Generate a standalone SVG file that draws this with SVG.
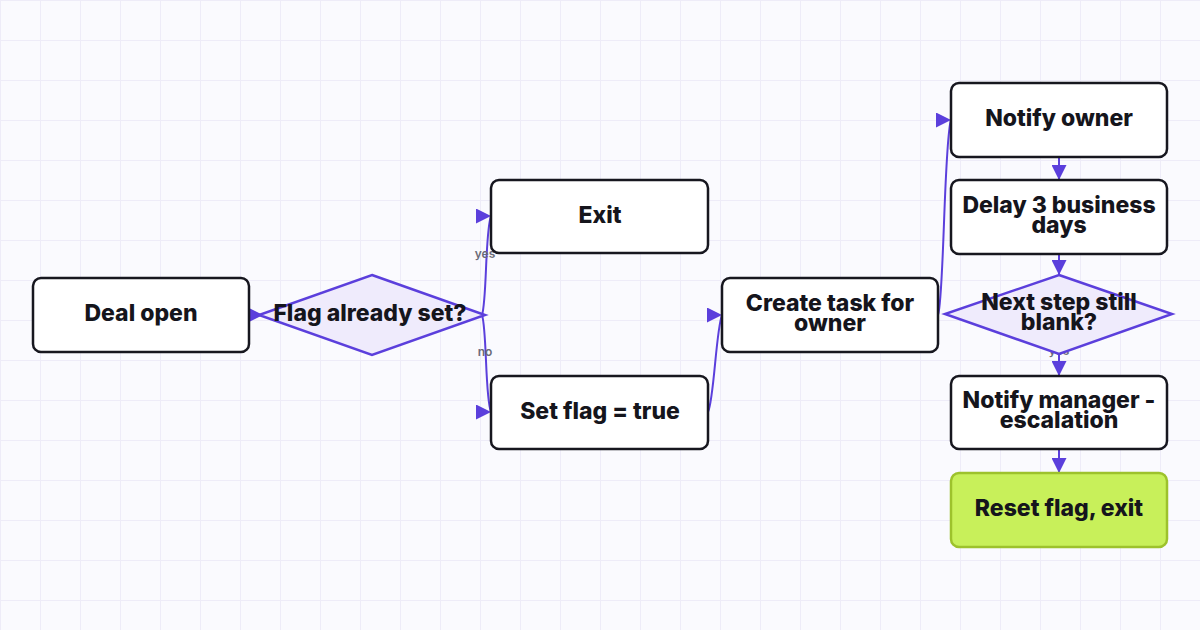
<svg xmlns="http://www.w3.org/2000/svg" width="1200" height="630" viewBox="0 0 1200 630">
<defs>
<pattern id="grid" width="40" height="40" patternUnits="userSpaceOnUse">
<path d="M40,0 L0,0 L0,40" fill="none" stroke="#eeecf8" stroke-width="2"/>
</pattern>
<marker id="arR" viewBox="0 0 15 15" refX="15" refY="7.5" markerWidth="15" markerHeight="15" markerUnits="userSpaceOnUse" orient="0">
<path d="M0,0 L15,7.5 L0,15 z" fill="#5b3fdc"/>
</marker>
<marker id="arD" viewBox="0 0 15 15" refX="15" refY="7.5" markerWidth="15" markerHeight="15" markerUnits="userSpaceOnUse" orient="90">
<path d="M0,0 L15,7.5 L0,15 z" fill="#5b3fdc"/>
</marker>
</defs>
<style>
.box{fill:#ffffff;stroke:#17171f;stroke-width:2.5}
.dia{fill:#efebfc;stroke:#5b3fdc;stroke-width:2.5}
.done{fill:#c8f05a;stroke:#9dc22c;stroke-width:2.5}
.t{font-family:Inter,"Liberation Sans",sans-serif;font-weight:800;font-size:23px;fill:#15151c;text-anchor:middle}
.e{fill:none;stroke:#5b3fdc;stroke-width:2}
.lbl{font-family:Inter,"Liberation Sans",sans-serif;font-size:12px;font-weight:600;fill:#6b6b78;text-anchor:middle}
</style>
<rect width="1200" height="630" fill="#fafafe"/>
<rect width="1200" height="630" fill="url(#grid)"/>
<g id="connectors">
<path class="e" d="M249,315 L263,315" marker-end="url(#arR)"/>
<path class="e" d="M482,315 C487,300 485,232 491,216" marker-end="url(#arR)"/>
<path class="e" d="M482,315 C487,330 485,398 491,412" marker-end="url(#arR)"/>
<path class="e" d="M708,412 C714,400 716,330 722,315" marker-end="url(#arR)"/>
<path class="e" d="M938,315 C944,300 944,140 951,120" marker-end="url(#arR)"/>
<path class="e" d="M1059,157 L1059,180" marker-end="url(#arD)"/>
<path class="e" d="M1059,254 L1059,275" marker-end="url(#arD)"/>
<path class="e" d="M1059,354 L1059,376" marker-end="url(#arD)"/>
<path class="e" d="M1059,449 L1059,473" marker-end="url(#arD)"/>
<text class="lbl" x="485" y="258">yes</text>
<text class="lbl" x="485" y="356">no</text>
<text class="lbl" x="1059" y="355">yes</text>
</g>
<g id="deal-open">
<rect class="box" x="33" y="278" width="216" height="74" rx="8"/>
<text class="t" x="141" y="321">Deal open</text>
</g>
<g id="flag-set">
<polygon class="dia" points="372,275 485,315 372,355 259,315"/>
<text class="t" x="370" y="321">Flag already set?</text>
</g>
<g id="exit">
<rect class="box" x="491" y="180" width="217" height="73" rx="8"/>
<text class="t" x="600" y="223">Exit</text>
</g>
<g id="set-flag">
<rect class="box" x="491" y="376" width="217" height="73" rx="8"/>
<text class="t" x="600" y="419">Set flag = true</text>
</g>
<g id="create-task">
<rect class="box" x="722" y="278" width="216" height="74" rx="8"/>
<text class="t" x="830" y="311">Create task for<tspan x="830" dy="20">owner</tspan></text>
</g>
<g id="notify-owner">
<rect class="box" x="951" y="83" width="216" height="74" rx="8"/>
<text class="t" x="1059" y="126">Notify owner</text>
</g>
<g id="delay">
<rect class="box" x="951" y="180" width="216" height="74" rx="8"/>
<text class="t" x="1059" y="213">Delay 3 business<tspan x="1059" dy="20">days</tspan></text>
</g>
<g id="next-step-blank">
<polygon class="dia" points="1059,275 1172,314 1059,354 945,314"/>
<text class="t" x="1059" y="310">Next step still<tspan x="1059" dy="20">blank?</tspan></text>
</g>
<g id="notify-manager">
<rect class="box" x="951" y="376" width="216" height="73" rx="8"/>
<text class="t" x="1059" y="408">Notify manager -<tspan x="1059" dy="20">escalation</tspan></text>
</g>
<g id="reset-flag">
<rect class="done" x="951" y="473" width="216" height="74" rx="8"/>
<text class="t" x="1059" y="516">Reset flag, exit</text>
</g>
</svg>
